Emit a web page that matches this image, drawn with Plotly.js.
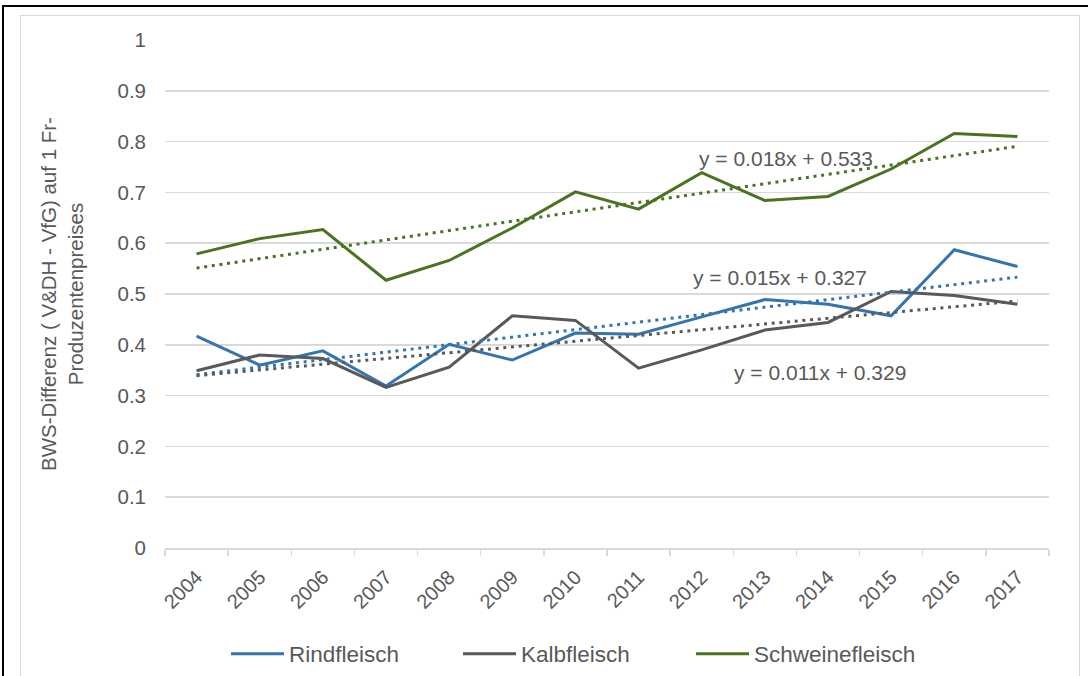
<!DOCTYPE html>
<html>
<head>
<meta charset="utf-8">
<script src="https://cdn.plot.ly/plotly-3.0.1.min.js"></script>
<style>
  html, body { margin: 0; padding: 0; background: #fff; }
  #wrap { position: relative; width: 1088px; height: 676px; overflow: hidden; }
  #chart { position: absolute; left: 0; top: 0; width: 1088px; height: 676px; }
  .b { position: absolute; pointer-events: none; }
</style>
</head>
<body>
<div id="wrap">
  <div id="chart"></div>
  <div class="b" style="left:2px; top:5px; width:1086px; height:2px; background:#000;"></div>
  <div class="b" style="left:2px; top:5px; width:2px; height:671px; background:#000;"></div>
  <div class="b" style="left:20px; top:15px; width:1058px; height:700px; border:1.5px solid #d9d9d9;"></div>
</div>
<script>
const years = ['2004','2005','2006','2007','2008','2009','2010','2011','2012','2013','2014','2015','2016','2017'];
const rindfleisch = [0.417,0.360,0.388,0.319,0.401,0.370,0.423,0.421,0.455,0.489,0.480,0.457,0.587,0.554];
const kalbfleisch = [0.349,0.380,0.373,0.316,0.356,0.457,0.448,0.354,0.390,0.429,0.444,0.505,0.497,0.480];
const schweinefleisch = [0.579,0.609,0.627,0.527,0.566,0.630,0.701,0.667,0.739,0.684,0.692,0.746,0.816,0.810];
const seriesNames = ['Rindfleisch','Kalbfleisch','Schweinefleisch'];
const trendLabels = ['y = 0.015x + 0.327','y = 0.011x + 0.329','y = 0.018x + 0.533'];
const yTitle = 'BWS-Differenz ( V&DH - VfG) auf 1 Fr-<br>Produzentenpreises';

const colors = ['#3574ad','#595959','#4a7320'];
const series = [rindfleisch, kalbfleisch, schweinefleisch];
const legendIds = ['legend','legend2','legend3'];
const legendX = [232, 464, 697];

function linfit(vals) {
  const n = vals.length;
  let sx = 0, sy = 0, sxx = 0, sxy = 0;
  vals.forEach((v, i) => { const x = i + 1; sx += x; sy += v; sxx += x * x; sxy += x * v; });
  const m = (n * sxy - sx * sy) / (n * sxx - sx * sx);
  const b = (sy - m * sx) / n;
  return vals.map((v, i) => m * (i + 1) + b);
}

const traces = [];
series.forEach((vals, k) => {
  traces.push({
    x: years, y: vals, type: 'scatter', mode: 'lines', name: seriesNames[k], legend: legendIds[k],
    line: { color: colors[k], width: 3 }, hoverinfo: 'skip'
  });
});
series.forEach((vals, k) => {
  traces.push({
    x: years, y: linfit(vals), type: 'scatter', mode: 'lines', showlegend: false,
    line: { color: colors[k], width: 3, dash: '3px,4.7px' }, hoverinfo: 'skip'
  });
});

const font = { family: 'Liberation Sans, Arial, sans-serif', color: '#595959' };

const layout = {
  width: 1088, height: 676,
  margin: { l: 165, r: 39, t: 40, b: 128, autoexpand: false },
  paper_bgcolor: 'rgba(0,0,0,0)', plot_bgcolor: 'rgba(0,0,0,0)',
  font: Object.assign({ size: 19 }, font),
  showlegend: true,
  xaxis: {
    type: 'category', range: [-0.5, 13.5], tickson: 'boundaries', ticks: 'outside', ticklen: 6,
    tickcolor: '#d9d9d9', tickwidth: 1.5, showline: true, linecolor: '#d9d9d9', linewidth: 1.5,
    showgrid: false, tickangle: -45, ticklabelstandoff: 8, tickfont: Object.assign({ size: 20 }, font),
    fixedrange: true, automargin: false
  },
  yaxis: {
    range: [0, 1], dtick: 0.1, tick0: 0, showgrid: true, gridcolor: '#d9d9d9', gridwidth: 1.5,
    zeroline: false, showline: false, ticks: '', ticklabelstandoff: 18,
    tickfont: Object.assign({ size: 20.5 }, font), fixedrange: true, automargin: false,
    title: { text: yTitle, standoff: 28, font: Object.assign({ size: 20.5 }, font) }
  },
  annotations: [
    { text: trendLabels[2], xref: 'paper', yref: 'paper', x: (786 - 165) / 884, y: (548 - 158) / 508,
      xanchor: 'center', yanchor: 'middle', showarrow: false, font: Object.assign({ size: 21 }, font) },
    { text: trendLabels[0], xref: 'paper', yref: 'paper', x: (780 - 165) / 884, y: (548 - 277) / 508,
      xanchor: 'center', yanchor: 'middle', showarrow: false, font: Object.assign({ size: 21 }, font) },
    { text: trendLabels[1], xref: 'paper', yref: 'paper', x: (820 - 165) / 884, y: (548 - 372) / 508,
      xanchor: 'center', yanchor: 'middle', showarrow: false, font: Object.assign({ size: 21 }, font) }
  ]
};
legendIds.forEach((id, k) => {
  layout[id] = {
    orientation: 'h', xref: 'container', yref: 'container',
    x: (legendX[k] - 6) / 1088, xanchor: 'left', y: 22 / 676, yanchor: 'middle',
    font: Object.assign({ size: 22.5 }, font), itemwidth: 53,
    bgcolor: 'rgba(0,0,0,0)', borderwidth: 0
  };
});

Plotly.newPlot('chart', traces, layout, { staticPlot: true, displayModeBar: false });
</script>
</body>
</html>
